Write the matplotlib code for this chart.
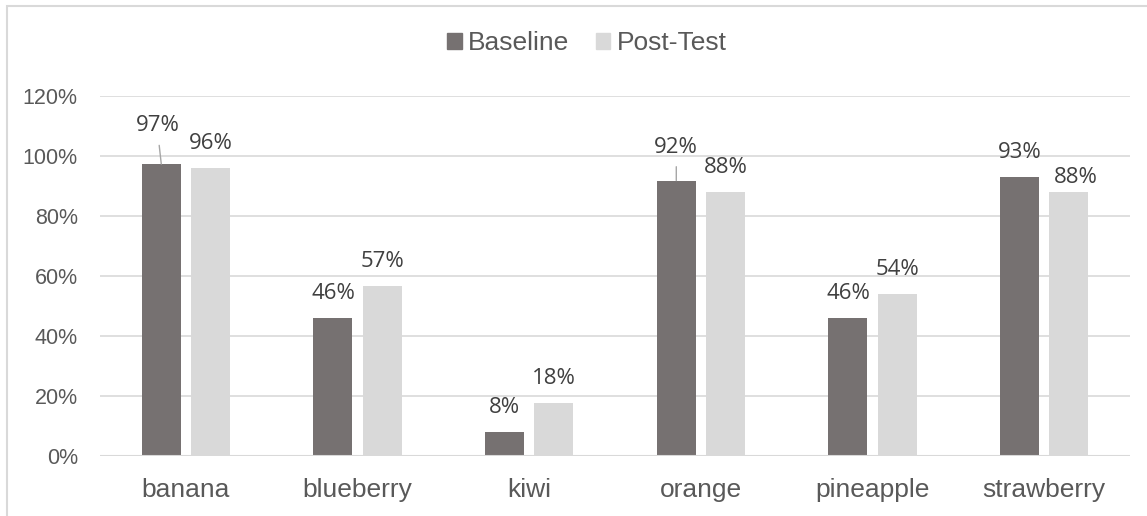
import matplotlib
matplotlib.use("Agg")
import matplotlib.pyplot as plt
from matplotlib.patches import Rectangle, Patch
from matplotlib.ticker import PercentFormatter, MultipleLocator
import numpy as np

# Data
categories = ["banana", "blueberry", "kiwi", "orange", "pineapple", "strawberry"]
baseline = [0.973, 0.459, 0.081, 0.918, 0.459, 0.931]
post_test = [0.959, 0.567, 0.176, 0.879, 0.541, 0.879]
series_names = ["Baseline", "Post-Test"]

DARK = "#767171"
LIGHT = "#D9D9D9"
GRID = "#D9D9D9"
TEXT = "#595959"
LABEL_TEXT = "#404040"

W, H = 1147, 516
fig = plt.figure(figsize=(W / 100, H / 100), dpi=100)
ax = fig.add_axes([100 / W, 1 - 456 / H, 1030 / W, 360 / H])

x = np.arange(len(categories))
bw = 0.227
off = 0.143
ax.bar(x - off, baseline, bw, color=DARK, zorder=3)
ax.bar(x + off, post_test, bw, color=LIGHT, zorder=3)

ax.set_xlim(-0.5, len(categories) - 0.5)
ax.set_ylim(0, 1.2)
ax.yaxis.set_major_locator(MultipleLocator(0.2))
ax.yaxis.set_major_formatter(PercentFormatter(1.0, decimals=0))
ax.grid(axis="y", color=GRID, linewidth=1.2, zorder=0)
ax.axhline(0, color=GRID, linewidth=1.5, zorder=4)
for s in ax.spines.values():
    s.set_visible(False)
ax.tick_params(axis="both", length=0)
ax.tick_params(axis="y", pad=16, labelsize=15.5, labelcolor=TEXT)
ax.tick_params(axis="x", pad=16, labelsize=19, labelcolor=TEXT)
ax.set_xticks(x)
ax.set_xticklabels(categories)
for lab in ax.get_xticklabels() + ax.get_yticklabels():
    lab.set_family("Liberation Sans")

# Data labels: default sits above the bar; a few are nudged (dx, dy in points)
nudges = {
    (0, 0): (-2.5, 27.5),
    (0, 3): (0, 24),
    (1, 5): (5, 11),
}
for si, vals in enumerate([baseline, post_test]):
    for ci, v in enumerate(vals):
        xc = x[ci] + (-off if si == 0 else off)
        dx, dy = nudges.get((si, ci), (0, 17.5))
        ax.annotate(f"{round(v * 100):.0f}%", (xc, v), xytext=(dx, dy),
                    textcoords="offset points", ha="center", va="center",
                    fontsize=16, color=LABEL_TEXT, family="Open Sans", zorder=5)
        if (si, ci) in [(0, 0), (0, 3)]:
            # leader line from the moved label down to the bar top
            ax.annotate("", xy=(xc, v), xytext=(dx * 0.6, dy - 14),
                        textcoords="offset points",
                        arrowprops=dict(arrowstyle="-", color="#A6A6A6", lw=1.0,
                                        shrinkA=0, shrinkB=0))

# Legend
handles = [Patch(color=DARK), Patch(color=LIGHT)]
fig.legend(handles, series_names, loc="center", bbox_to_anchor=(587 / W, 1 - 43 / H),
           ncol=2, frameon=False, handlelength=0.55, handleheight=0.55,
           handletextpad=0.25, columnspacing=1.0, labelcolor=TEXT,
           prop={"family": "Liberation Sans", "size": 19})

# Chart area border
fig.add_artist(Rectangle((7 / W, -0.1), 1.2, 1.1 - 6 / H, transform=fig.transFigure,
                         fill=False, edgecolor=GRID, linewidth=1.5))

fig.savefig("out.png", dpi=100, facecolor="white")
